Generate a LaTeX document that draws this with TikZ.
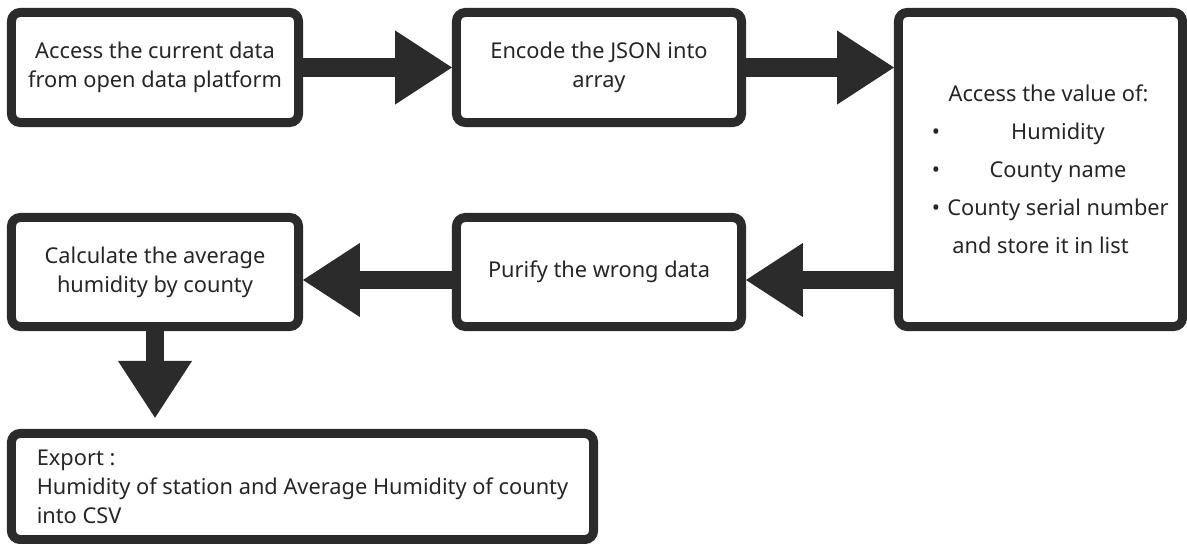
\documentclass[tikz,border=0pt]{standalone}
\usepackage{fontspec}
\setmainfont{Noto Sans}
\usepackage{xcolor}
\usepackage{tikz}
\usetikzlibrary{arrows.meta, calc, positioning}

\definecolor{inkgray}{RGB}{43,43,43}

\tikzset{
	stepbox/.style={draw=inkgray, line width=0.225cm, rounded corners=0.22cm, fill=white,
		text=black!85, align=center, inner sep=0pt,
		font=\fontsize{15.5}{20.6}\selectfont},
	flow/.style={draw=inkgray, line width=0.46cm,
		-{Triangle[length=1.42cm, width=1.85cm, line width=0pt]}}
}
% one bullet row of the list box
\providecommand{\bulrow}[1]{\makebox[5.425cm]{\textbullet\hfill\makebox[4.55cm]{#1}}}

\begin{document}
\begin{tikzpicture}[x=0.025cm, y=-0.025cm]
	\useasboundingbox (0,0) rectangle (1187,544);

	\coordinate (P1) at (155,67.5);
	\coordinate (P2) at (599,67.5);
	\coordinate (P3) at (1040.5,169.5);
	\coordinate (P4) at (599,272);
	\coordinate (P5) at (155,272);
	\coordinate (P6) at (302.5,486.5);

	\node[stepbox, minimum width=7.175cm, minimum height=2.75cm] (fetch) at (P1)
		{Access the current data\\from open data platform};
	\node[stepbox, minimum width=7.125cm, minimum height=2.75cm] (encode) at (P2)
		{Encode the JSON into\\array};
	\node[stepbox, minimum width=7.1cm, minimum height=7.85cm,
		font=\fontsize{15.5}{27}\selectfont] (extract) at (P3)
		{\hspace*{0.4cm}Access the value of:\\
		\bulrow{Humidity}\\
		\bulrow{County name}\\
		\bulrow{County serial number}\\
		and store it in list};
	\node[stepbox, minimum width=7.125cm, minimum height=2.725cm] (purify) at (P4)
		{Purify the wrong data};
	\node[stepbox, minimum width=7.175cm, minimum height=2.725cm] (average) at (P5)
		{Calculate the average\\humidity by county};
	\node[stepbox, minimum width=14.55cm, minimum height=2.65cm, align=left] (export) at (P6)
		{Export :\\Humidity of station and Average Humidity of county\\into CSV};

	\coordinate (low) at ([yshift=-0.2cm]purify.east);

	\draw[flow] (fetch.east) -- (encode.west);
	\draw[flow] (encode.east) -- (encode.east -| extract.west);
	\draw[flow] (extract.west |- low) -- (low);
	\draw[flow] ([yshift=-0.2cm]purify.west) -- ([yshift=-0.2cm]average.east);
	\draw[flow, shorten >=0.28cm] (average.south) -- (export.north -| average.south);

\end{tikzpicture}
\end{document}
